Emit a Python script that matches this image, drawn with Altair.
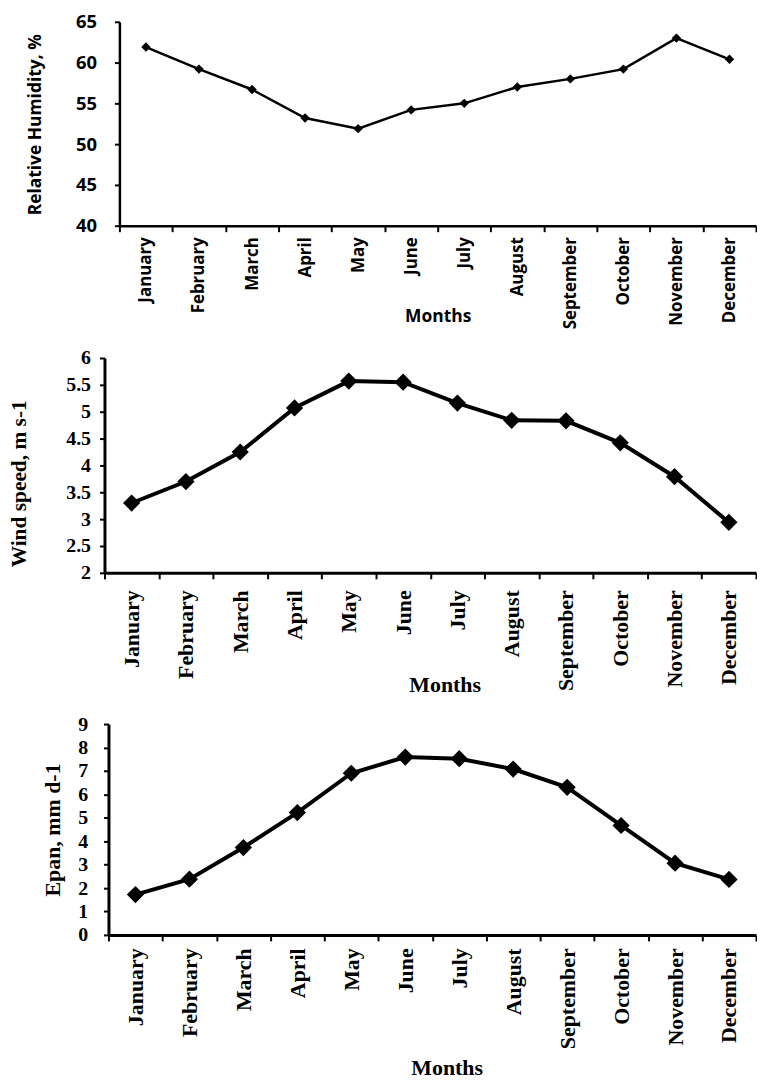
import altair as alt
import pandas as pd

months = ["January", "February", "March", "April", "May", "June", "July",
          "August", "September", "October", "November", "December"]
rh = [61.9, 59.2, 56.7, 53.2, 51.9, 54.2, 55.0, 57.0, 58.0, 59.2, 63.0, 60.4]
wind = [3.30, 3.70, 4.25, 5.07, 5.57, 5.55, 5.16, 4.84, 4.83, 4.42, 3.79, 2.94]
epan = [1.72, 2.38, 3.73, 5.22, 6.90, 7.59, 7.52, 7.08, 6.30, 4.67, 3.06, 2.37]

rh_ticks = [40, 45, 50, 55, 60, 65]
wind_ticks = [2, 2.5, 3, 3.5, 4, 4.5, 5, 5.5, 6]
epan_ticks = [0, 1, 2, 3, 4, 5, 6, 7, 8, 9]

W = 655


def panel(values, field, ytitle, domain, ticks, c):
    df = pd.DataFrame({"Month": months, field: values})
    x = alt.X(
        "Month:N", sort=months, bandPosition=0.5,
        scale=alt.Scale(type="band", range=[c["x0"], W], paddingInner=0, paddingOuter=0),
        axis=alt.Axis(
            title="Months", labelAngle=-90, tickBand="extent",
            labelFont=c["font"], labelFontSize=c["xls"], labelFontWeight="bold",
            labelColor="black", labelPadding=c["xlp"], labelOverlap=False,
            tickSize=6, tickWidth=c["tw"], tickColor="black",
            domainColor="black", domainWidth=c["dw"],
            titleFont=c["font"], titleFontSize=c["xts"], titleFontWeight="bold",
            titleColor="black", titleX=c["xtx"], titleY=c["xty"],
            titleBaseline="middle", grid=False,
        ),
    )
    y = alt.Y(
        f"{field}:Q",
        scale=alt.Scale(domain=domain, nice=False, zero=False),
        axis=alt.Axis(
            title=ytitle, values=ticks, format="~g", offset=-c["x0"],
            labelFont=c["font"], labelFontSize=c["yls"], labelFontWeight="bold",
            labelColor="black", labelPadding=c["ylp"], labelOverlap=False,
            tickSize=5, tickWidth=c["tw"], tickColor="black",
            domainColor="black", domainWidth=c["dw"],
            titleFont=c["font"], titleFontSize=c["yts"], titleFontWeight="bold",
            titleColor="black", titleX=c["ytx"], titleY=c["yty"],
            titleBaseline="middle", grid=False,
        ),
    )
    base = alt.Chart(df).encode(x=x, y=y)
    line = base.mark_line(color="black", strokeWidth=c["sw"])
    pts = base.mark_point(shape="diamond", filled=True, color="black",
                          opacity=1, size=c["ms"])
    return alt.layer(line, pts).properties(width=W, height=c["h"])


sans = "Open Sans"
serif = "Liberation Serif"

c1 = dict(x0=15, font=sans, xls=17, xlp=5, tw=2, dw=2.5, xts=17.5, xtx=335, xty=91,
          yls=18.5, ylp=18, yts=17.5, ytx=-84, yty=103, sw=2.5, ms=90, h=205)
c2 = dict(x0=0, font=serif, xls=22, xlp=11, tw=2, dw=3, xts=22, xtx=342, xty=112,
          yls=20, ylp=9, yts=21.5, ytx=-85, yty=126, sw=4, ms=300, h=216)
c3 = dict(x0=4, font=serif, xls=22, xlp=7, tw=2, dw=3, xts=22, xtx=344, xty=133,
          yls=20, ylp=16, yts=22, ytx=-56, yty=106, sw=4, ms=300, h=212)

p1 = panel(rh, "RH", "Relative Humidity, %", [40, 65], rh_ticks, c1)
p2 = panel(wind, "Wind", "Wind speed, m s-1", [2, 6], wind_ticks, c2)
p3 = panel(epan, "Epan", "Epan, mm d-1", [0, 9], epan_ticks, c3)

chart = (
    alt.vconcat(p1, p2, p3, spacing=19)
    .resolve_scale(x="independent", y="independent")
    .properties(padding={"left": 0, "top": 2, "right": 0, "bottom": 0},
                background="white")
    .configure_view(stroke=None)
)

chart.save("out.html", embed_options={"renderer": "svg", "actions": False})
